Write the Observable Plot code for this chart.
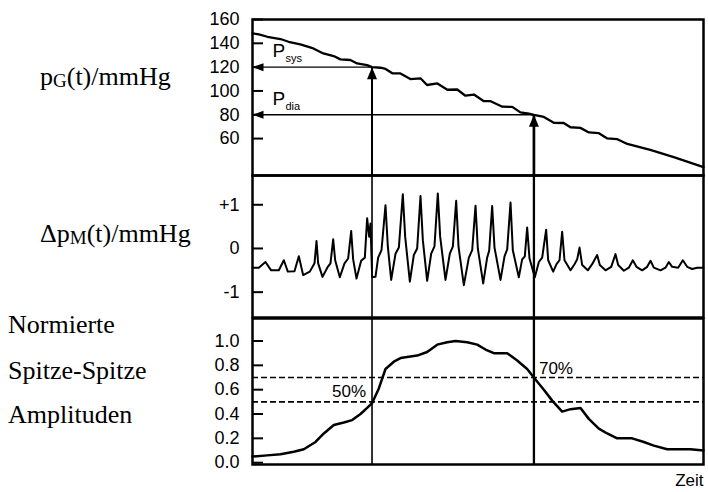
<!DOCTYPE html>
<html><head><meta charset="utf-8">
<script src="https://cdn.jsdelivr.net/npm/d3@7"></script>
<script src="https://cdn.jsdelivr.net/npm/@observablehq/plot@0.6"></script>
<style>
body{margin:0;background:#fff;color:#000}
#wrap{position:relative;width:708px;height:492px;overflow:hidden;background:#fff}
#wrap svg{position:absolute;left:0;top:0}
</style></head><body><div id="wrap"></div>
<script>
// ---- data: cuff pressure p_G(t) ----
const pgTime = [0,1.4,3.3,6.2,8.0,10.6,13.5,15.7,18.0,19.5,21.7,23.2,25.4,26.5,28.4,29.5,31.0,32.8,35.0,37.3,38.7,41.0,43.2,45.4,47.2,49.1,51.3,52.8,55.4,57.6,59.4,61.3,62.4,64.6,66.8,69.0,70.5,72.7,74.6,76.8,78.6,80.9,83.1,88.2,93.4,100];
const pgValue = [148.4,147.5,145.5,143.6,141.3,139.1,135.7,131.5,129.3,126.5,126,123.1,121.7,120,119.5,118.5,114.8,114.7,110,110.5,105,106.3,101,101.2,96,97,91.4,91.4,86.8,86.6,82,81,80,78.2,73.3,73.1,69.5,69,65.2,64.5,60.2,59.5,55.5,50.5,44.5,36.1];
const pgTicks = [160,140,120,100,80,60];

// ---- data: oscillation Δp_M(t) ----
const dpTime = [0,1.40,2.88,4.14,5.84,6.95,7.83,9.31,10.27,11.23,12.71,13.75,14.19,14.56,15.52,16.70,17.29,17.89,18.33,19.36,20.40,21.21,21.88,22.32,23.06,24.09,24.91,25.42,25.87,26.16,26.53,27.27,27.86,28.60,29.49,30.01,30.75,31.71,32.45,33.33,33.85,34.89,35.77,36.51,37.25,37.77,38.73,39.62,40.35,41.09,41.61,42.79,43.75,44.42,45.16,45.68,46.86,47.97,48.71,49.45,49.96,51.15,52.03,52.48,53.14,53.66,54.99,55.88,56.47,57.21,57.72,59.05,59.79,60.38,60.90,61.42,62.60,63.49,64.23,65.11,65.56,66.67,67.41,68.07,68.66,69.18,70.51,71.40,71.99,72.51,73.10,74.35,75.31,76.42,77.01,78.27,79.53,80.49,81.08,82.34,83.44,84.33,85.14,86.40,87.51,88.25,88.99,90.47,91.57,92.31,93.05,94.38,95.42,96.38,97.49,98.60,100];
const dpValue = [-0.44,-0.44,-0.31,-0.50,-0.50,-0.27,-0.53,-0.52,-0.18,-0.61,-0.53,-0.34,0.17,-0.34,-0.65,-0.42,-0.34,0.21,-0.27,-0.66,-0.34,-0.23,0.40,-0.25,-0.69,-0.28,-0.21,0.69,0.27,0.57,-0.66,-0.65,-0.21,-0.04,0.99,0.04,-0.72,-0.12,0.02,1.24,0.27,-0.76,-0.15,0.00,1.20,0.19,-0.74,-0.12,0.05,1.26,0.27,-0.72,-0.12,0.04,1.09,0.04,-0.84,-0.21,-0.04,0.98,0.00,-0.80,-0.21,-0.05,0.97,0.02,-0.72,-0.18,-0.02,1.05,-0.04,-0.66,-0.25,-0.18,0.48,-0.23,-0.66,-0.31,-0.21,0.43,-0.27,-0.53,-0.36,-0.27,0.38,-0.27,-0.50,-0.36,-0.25,0.02,-0.38,-0.50,-0.36,-0.15,-0.38,-0.50,-0.42,-0.13,-0.38,-0.51,-0.44,-0.27,-0.42,-0.50,-0.42,-0.28,-0.44,-0.50,-0.44,-0.31,-0.42,-0.44,-0.27,-0.42,-0.47,-0.44,-0.44];
const dpTicks = [1,0,-1];
const dpTickLabels = ["+1","0","-1"];

// ---- data: normalized peak-to-peak amplitudes ----
const ampTime = [0,3.25,6.21,9.16,11.38,13.97,15.82,18.03,20.25,22.10,23.95,25.42,26.53,28.01,29.49,31.34,32.82,34.66,36.51,38.73,40.95,43.16,45.01,47.60,49.82,51.66,53.51,56.47,58.69,60.90,62.38,64.60,66.45,68.66,70.51,72.73,74.57,76.79,78.64,80.86,84.18,86.77,88.99,91.94,94.90,97.12,100];
const ampValue = [0.05,0.06,0.07,0.09,0.11,0.17,0.24,0.31,0.33,0.35,0.40,0.45,0.49,0.61,0.77,0.83,0.86,0.87,0.88,0.91,0.97,0.99,1.0,0.99,0.97,0.93,0.90,0.90,0.84,0.77,0.70,0.60,0.51,0.42,0.44,0.45,0.36,0.28,0.24,0.20,0.20,0.17,0.14,0.11,0.11,0.11,0.10];
const ampTicks = [1.0,0.8,0.6,0.4,0.2,0.0];
const thresholdValues = [0.5, 0.7];
const thresholdLabels = ["50%", "70%"];

// ---- markers: systolic / diastolic ----
const markerNames = ["sys", "dia"];
const markerTime = [26.5, 62.4];
const markerPressure = [120, 80];

// ---- text ----
const xLabel = "Zeit";

// ---- layout ----
const W = 708, H = 492;
const xDomain = [0, 100];
const pgDomain = [29, 160], dpDomain = [-1.58, 1.67], ampDomain = [-0.015, 1.185];
const font = "'Liberation Sans', Arial, Helvetica, sans-serif";

const markers = markerNames.map((n, i) => ({name: n, t: markerTime[i], p: markerPressure[i]}));
const markerWidth = d => d.name === "sys" ? 1.6 : 2.3;
const pgData = pgTime.map((t, i) => ({t, v: pgValue[i]}));
const dpData = dpTime.map((t, i) => ({t, v: dpValue[i]}));
const ampData = ampTime.map((t, i) => ({t, v: ampValue[i]}));
const thrData = thresholdValues.map((v, i) => ({v, label: thresholdLabels[i], t: markerTime[i]}));

const upHead = {draw(ctx) { ctx.moveTo(0, 0); ctx.lineTo(-5, 12); ctx.lineTo(5, 12); ctx.closePath(); }};
const leftHead = {draw(ctx) { ctx.moveTo(0, 0); ctx.lineTo(11, -4); ctx.lineTo(11, 4); ctx.closePath(); }};

const base = {
  width: W, height: H, marginLeft: 252, marginRight: 5,
  x: {domain: xDomain, axis: null},
  style: {background: "transparent", fontFamily: font, overflow: "visible", color: "#000"}
};
const yAxis = (ticks, fmt) => Plot.axisY({ticks, tickSize: -11, tickPadding: 24, strokeWidth: 2, fontSize: 18, tickFormat: fmt, label: null});

const p1 = Plot.plot({
  ...base, marginTop: 19, marginBottom: H - 175,
  y: {domain: pgDomain, axis: null},
  marks: [
    yAxis(pgTicks, d => String(d)),
    Plot.ruleY(markers, {y: "p", x1: xDomain[0], x2: "t", strokeWidth: 1.4}),
    Plot.ruleX(markers, {x: "t", y1: pgDomain[0], y2: "p", strokeWidth: d => markerWidth(d) + 0.4}),
    Plot.line(pgData, {x: "t", y: "v", strokeWidth: 2.3, strokeLinejoin: "round"}),
    Plot.dot(markers, {x: "t", y: "p", symbol: upHead, fill: "#000", stroke: "none", r: 1}),
    Plot.dot(markers, {x: xDomain[0], y: "p", symbol: leftHead, fill: "#000", stroke: "none", r: 1}),
    Plot.text(markers, {x: xDomain[0], y: "p", text: () => "P", textAnchor: "start", lineAnchor: "bottom", dx: 20, dy: -10, fontSize: 19}),
    Plot.text(markers, {x: xDomain[0], y: "p", text: "name", textAnchor: "start", lineAnchor: "bottom", dx: 33, dy: -5, fontSize: 11}),
    Plot.frame({strokeWidth: 2.5})
  ]
});

const p2 = Plot.plot({
  ...base, marginTop: 175, marginBottom: H - 317,
  y: {domain: dpDomain, axis: null},
  marks: [
    yAxis(dpTicks, d => dpTickLabels[dpTicks.indexOf(d)]),
    Plot.ruleX(markers, {x: "t", strokeWidth: markerWidth}),
    Plot.line(dpData, {x: "t", y: "v", strokeWidth: 2, strokeLinejoin: "round"}),
    Plot.frame({strokeWidth: 2.5})
  ]
});

const p3 = Plot.plot({
  ...base, marginTop: 318, marginBottom: H - 464,
  y: {domain: ampDomain, axis: null},
  marks: [
    yAxis(ampTicks, d => d.toFixed(1)),
    Plot.ruleY(thrData, {y: "v", strokeWidth: 1.6, strokeDasharray: "6,3"}),
    Plot.ruleX(markers, {x: "t", strokeWidth: markerWidth}),
    Plot.line(ampData, {x: "t", y: "v", strokeWidth: 2.5, strokeLinejoin: "round"}),
    Plot.text(thrData.filter(d => d.v === thresholdValues[0]), {x: "t", y: "v", text: "label", textAnchor: "end", lineAnchor: "bottom", dx: -6, dy: -5, fontSize: 17}),
    Plot.text(thrData.filter(d => d.v === thresholdValues[1]), {x: "t", y: "v", text: "label", textAnchor: "start", lineAnchor: "bottom", dx: 5, dy: -4, fontSize: 17}),
    Plot.text([xLabel], {frameAnchor: "bottom-right", textAnchor: "end", lineAnchor: "bottom", dy: 21, fontSize: 17}),
    Plot.frame({strokeWidth: 2.5})
  ]
});

const wrap = document.getElementById("wrap");
wrap.append(p1, p2, p3);

// left-hand panel titles (serif, with subscripts)
const serif = "'Liberation Serif', 'Times New Roman', Times, serif";
const lab = d3.create("svg").attr("width", W).attr("height", H).attr("font-family", serif).attr("font-size", 26);
function addLabel(x, y, parts) {
  const t = lab.append("text").attr("x", x).attr("y", y);
  let shift = 0;
  for (const [s, sub] of parts) {
    const dy = sub ? 2 - shift : -shift;
    shift = sub ? 2 : 0;
    t.append("tspan").attr("dy", dy).attr("font-size", sub ? 19 : 26).text(s);
  }
}
addLabel(40, 85, [["p", false], ["G", true], ["(t)/mmHg", false]]);
addLabel(40, 242, [["\u0394p", false], ["M", true], ["(t)/mmHg", false]]);
addLabel(8, 333, [["Normierte", false]]);
addLabel(8, 379, [["Spitze-Spitze", false]]);
addLabel(8, 423, [["Amplituden", false]]);
wrap.append(lab.node());
</script>
</body></html>
